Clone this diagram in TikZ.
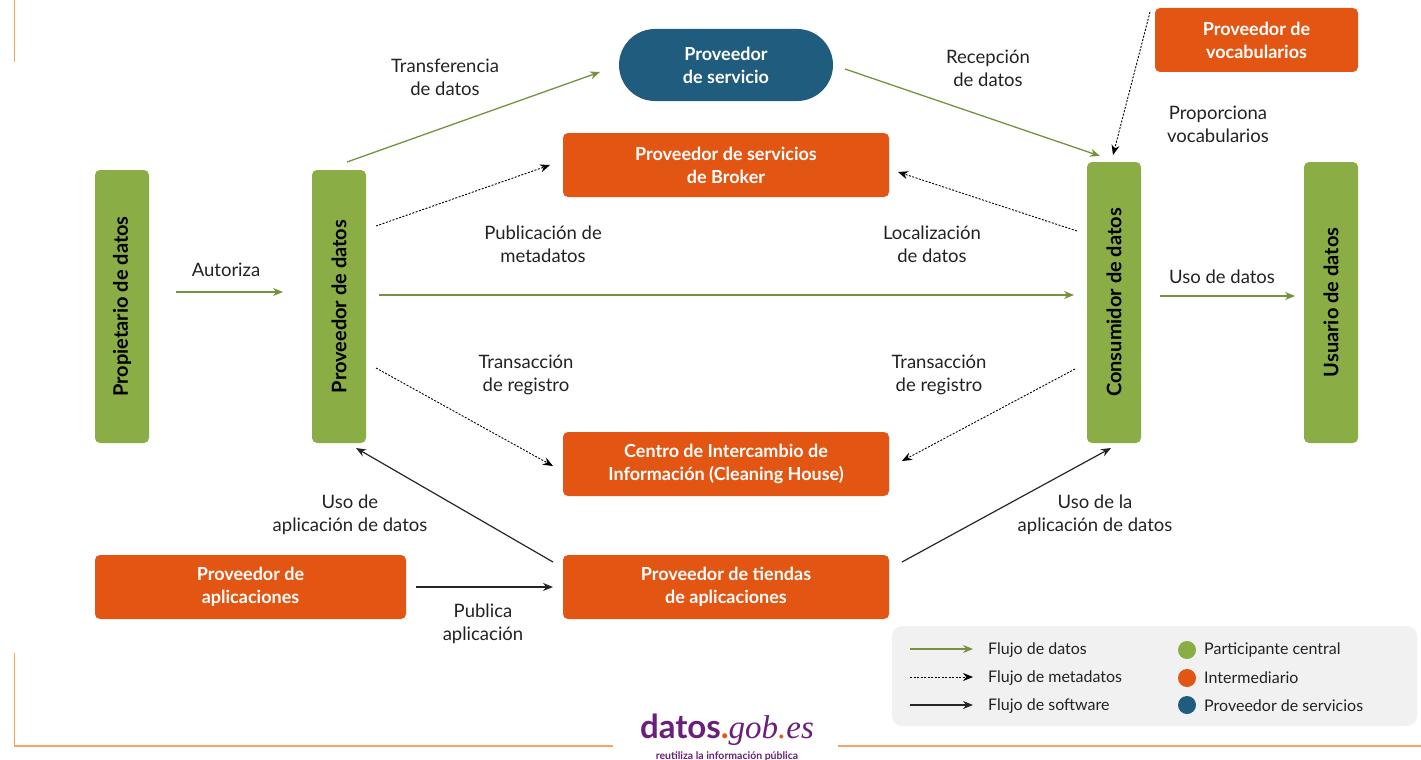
\documentclass[tikz,border=0pt]{standalone}
\usepackage{fontspec}
\setmainfont{Lato}
\newfontfamily\logoserif{Liberation Serif}
\usetikzlibrary{arrows.meta}
\definecolor{cgreen}{HTML}{8AAD46}
\definecolor{corange}{HTML}{E25512}
\definecolor{cblue}{HTML}{1F5C7D}
\definecolor{cframe}{HTML}{F5A55F}
\definecolor{clegend}{HTML}{F1F1F1}
\definecolor{clogo}{HTML}{6A1F7A}
\definecolor{ctext}{HTML}{222222}
\tikzset{
  x=1pt,y=-1pt,
  box/.style={rounded corners=5pt,inner sep=0pt,align=center,font=\fontsize{18}{23}\selectfont\bfseries},
  vbox/.style={box,fill=cgreen,text=black,rotate=90,minimum height=54pt,font=\fontsize{20}{24}\selectfont\bfseries},
  obox/.style={box,fill=corange,text=white,minimum height=64pt},
  lbl/.style={align=center,text=ctext,inner sep=0pt,font=\fontsize{18.5}{23}\selectfont},
  leg/.style={anchor=west,text=ctext,inner sep=0pt,font=\fontsize{16}{20}\selectfont},
  dot/.style={circle,inner sep=0pt,minimum size=18pt},
  gflow/.style={draw=cgreen!85!black,line width=1.3pt,-{Stealth[length=10pt,width=8pt]}},
  mflow/.style={draw=black,line width=0.9pt,dash pattern=on 2pt off 1.5pt,-{Stealth[length=10pt,width=8pt]}},
  sflow/.style={draw=black!85,line width=1.2pt,-{Stealth[length=10pt,width=8pt]}},
  frameline/.style={draw=cframe,line width=1.6pt},
}
\begin{document}
\begin{tikzpicture}
\useasboundingbox (0,0) rectangle (1421,760);
% frame
\coordinate (f1) at (14.5,0); \coordinate (f2) at (14.5,62);
\coordinate (f3) at (14.5,653); \coordinate (f4) at (14.5,746);
\coordinate (f5) at (613,746); \coordinate (f6) at (838,746); \coordinate (f7) at (1421,746);
\draw[frameline] (f1) -- (f2);
\draw[frameline] (f3) -- (f4) -- (f5);
\draw[frameline] (f6) -- (f7);
% participants
\node[vbox,minimum width=273pt] (prop) at (122,306.5) {Propietario de datos};
\node[vbox,minimum width=273pt] (prov) at (339,306.5) {Proveedor de datos};
\node[vbox,minimum width=281pt] (cons) at (1114,302.5) {Consumidor de datos};
\node[vbox,minimum width=281pt] (usu) at (1331,302.5) {Usuario de datos};
% intermediaries
\node[obox,minimum width=326pt] (broker) at (726,165) {Proveedor de servicios\\de Broker};
\node[obox,minimum width=326pt] (centro) at (726,464) {Centro de Intercambio de\\Información (Cleaning House)};
\node[obox,minimum width=326pt] (tiendas) at (726,587) {Proveedor de tiendas\\de aplicaciones};
\node[obox,minimum width=311pt] (aplic) at (250.5,587) {Proveedor de\\aplicaciones};
\node[obox,minimum width=203pt] (vocab) at (1256.5,40) {Proveedor de\\vocabularios};
\node[box,fill=cblue,text=white,minimum width=214pt,minimum height=72pt,rounded corners=36pt] (serv) at (726,65) {Proveedor\\de servicio};
% connector ends
\coordinate (a1) at (347,162); \coordinate (a2) at (600,72);
\coordinate (a3) at (845,69); \coordinate (a4) at (1100,156);
\coordinate (a5) at (176,292); \coordinate (a6) at (283,292);
\coordinate (a7) at (379,295); \coordinate (a8) at (1074,295);
\coordinate (a9) at (1160,296); \coordinate (a10) at (1295,296);
\coordinate (b1) at (376,226); \coordinate (b2) at (550,165);
\coordinate (b3) at (1077,231); \coordinate (b4) at (898,172);
\coordinate (b5) at (376,368); \coordinate (b6) at (553,466);
\coordinate (b7) at (1075,369); \coordinate (b8) at (902,461);
\coordinate (b9) at (1150,12); \coordinate (b10) at (1113,155);
\coordinate (c1) at (553,562); \coordinate (c2) at (356,448);
\coordinate (c3) at (902,562); \coordinate (c4) at (1111,448);
\coordinate (c5) at (416,587); \coordinate (c6) at (553,587);
\draw[gflow] (a1) -- (a2);
\draw[gflow] (a3) -- (a4);
\draw[gflow] (a5) -- (a6);
\draw[gflow] (a7) -- (a8);
\draw[gflow] (a9) -- (a10);
\draw[mflow] (b1) -- (b2);
\draw[mflow] (b3) -- (b4);
\draw[mflow] (b5) -- (b6);
\draw[mflow] (b7) -- (b8);
\draw[mflow] (b9) -- (b10);
\draw[sflow] (c1) -- (c2);
\draw[sflow] (c3) -- (c4);
\draw[sflow] (c5) -- (c6);
% labels
\node[lbl] (l1) at (445,77) {Transferencia\\de datos};
\node[lbl] (l2) at (988,68) {Recepción\\de datos};
\node[lbl] (l3) at (1218,124) {Proporciona\\vocabularios};
\node[lbl] (l4) at (226,270) {Autoriza};
\node[lbl] (l5) at (543,244) {Publicación de\\metadatos};
\node[lbl] (l6) at (932,244) {Localización\\de datos};
\node[lbl] (l7) at (1222,277) {Uso de datos};
\node[lbl] (l8) at (526,375) {Transacción\\de registro};
\node[lbl] (l9) at (939,375) {Transacción\\de registro};
\node[lbl] (l10) at (350,515) {Uso de\\aplicación de datos};
\node[lbl] (l11) at (1095,515) {Uso de la\\aplicación de datos};
\node[lbl] (l12) at (483,624) {Publica\\aplicación};
% legend
\node[fill=clegend,rounded corners=10pt,minimum width=525pt,minimum height=100pt,inner sep=0pt] (legend) at (1154.5,676) {};
\coordinate (g1) at (910,649); \coordinate (g2) at (973,649);
\coordinate (g3) at (910,677); \coordinate (g4) at (973,677);
\coordinate (g5) at (910,705); \coordinate (g6) at (973,705);
\draw[gflow] (g1) -- (g2);
\draw[mflow] (g3) -- (g4);
\draw[sflow] (g5) -- (g6);
\node[leg] (t1) at (988,650) {Flujo de datos};
\node[leg] (t2) at (988,678) {Flujo de metadatos};
\node[leg] (t3) at (988,706) {Flujo de software};
\node[dot,fill=cgreen] (d1) at (1187,650) {};
\node[dot,fill=corange] (d2) at (1187,678) {};
\node[dot,fill=cblue] (d3) at (1187,705) {};
\node[leg] (t4) at (1204,650) {Participante central};
\node[leg] (t5) at (1204,678) {Intermediario};
\node[leg] (t6) at (1204,706) {Proveedor de servicios};
% logo
\node[inner sep=0pt,text=clogo] (logo) at (727,730) {\fontsize{33}{36}\selectfont\bfseries datos{\color{corange}.}{\logoserif\itshape\mdseries gob{\color{corange}.}es}};
\node[inner sep=0pt,text=clogo] (tag) at (727,756) {\fontsize{10.5}{12}\selectfont\bfseries reutiliza la información pública};
\end{tikzpicture}
\end{document}
